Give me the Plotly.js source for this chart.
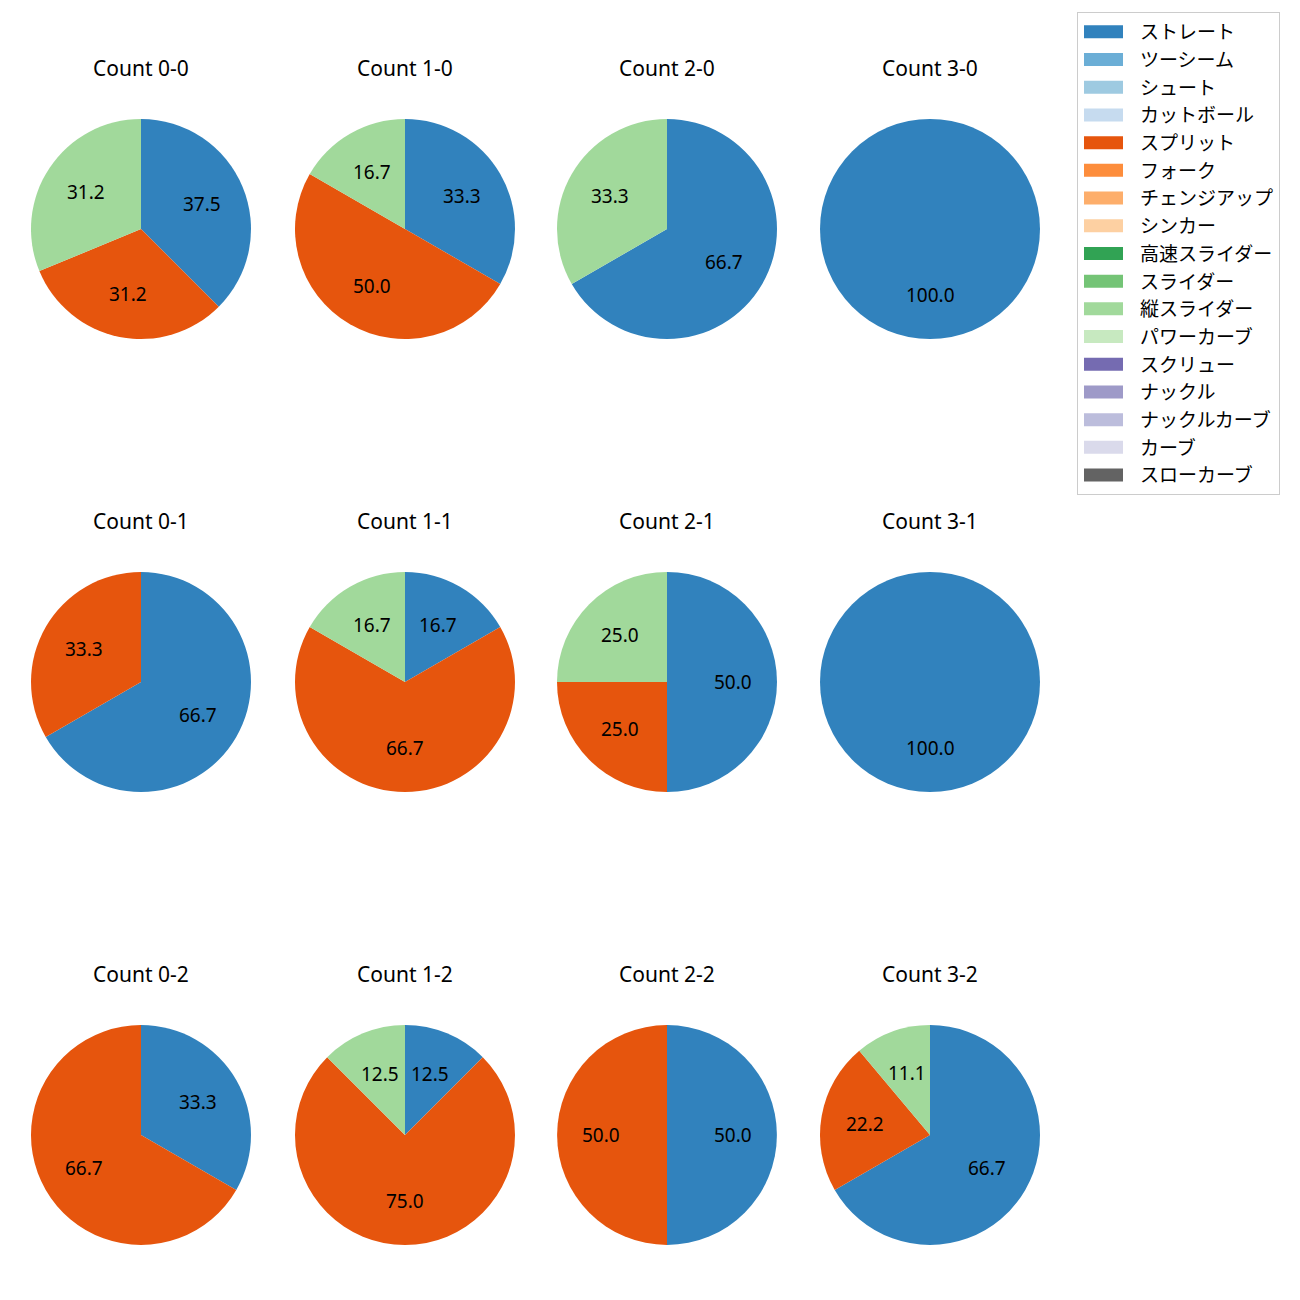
<!DOCTYPE html>
<html>
<head>
<meta charset="utf-8">
<script src="https://cdn.plot.ly/plotly-3.0.1.min.js"></script>
<style>html,body{margin:0;padding:0;background:#fff;}</style>
</head>
<body>
<div id="chart" style="width:1300px;height:1300px;"></div>
<script>
// ---- data ----
const counts = ['0-0','1-0','2-0','3-0','0-1','1-1','2-1','3-1','0-2','1-2','2-2','3-2'];
const pitchTypes = ['ストレート','ツーシーム','シュート','カットボール','スプリット','フォーク','チェンジアップ','シンカー','高速スライダー','スライダー','縦スライダー','パワーカーブ','スクリュー','ナックル','ナックルカーブ','カーブ','スローカーブ'];
const pitchColors = ['#3182bd','#6baed6','#9ecae1','#c6dbef','#e6550d','#fd8d3c','#fdae6b','#fdd0a2','#31a354','#74c476','#a1d99b','#c7e9c0','#756bb1','#9e9ac8','#bcbddc','#dadaeb','#636363'];
// pitches thrown per count (only these three types appear)
const straightCounts = [6,2,2,1, 2,1,2,1, 1,1,1,6];
const splitCounts    = [5,3,0,0, 1,4,1,0, 2,6,1,2];
const vSliderCounts  = [5,1,1,0, 0,1,1,0, 0,1,0,1];

// ---- layout constants ----
const W = 1300, H = 1300;
const colCenters = [141, 405, 667, 930];
const rowCenters = [229, 682, 1135];
const R = 110;
const FONT_JP = '"Noto Sans CJK JP", "Noto Sans", sans-serif';
const FONT_LAT = '"Noto Sans", "Noto Sans CJK JP", sans-serif';

function fmtPct(p) {
  // python-like %1.1f (round half to even on exact halves)
  let x = p * 10;
  const f = Math.floor(x);
  const d = x - f;
  if (Math.abs(d - 0.5) < 1e-9) x = (f % 2 === 0) ? f : f + 1;
  else x = Math.round(x);
  return (x / 10).toFixed(1);
}

const traces = [];
const annotations = [];
counts.forEach((c, k) => {
  const col = k % 4, row = Math.floor(k / 4);
  const cx = colCenters[col], cy = rowCenters[row];
  const vals = pitchTypes.map(() => 0);
  vals[pitchTypes.indexOf('ストレート')] = straightCounts[k];
  vals[pitchTypes.indexOf('スプリット')] = splitCounts[k];
  vals[pitchTypes.indexOf('縦スライダー')] = vSliderCounts[k];
  traces.push({
    type: 'pie',
    labels: pitchTypes,
    values: vals,
    marker: {colors: pitchColors, line: {width: 0}},
    sort: false,
    direction: 'clockwise',
    rotation: 0,
    textinfo: 'none',
    hoverinfo: 'label+percent',
    showlegend: k === 0,
    domain: {x: [(cx - R) / W, (cx + R) / W], y: [1 - (cy + R) / H, 1 - (cy - R) / H]}
  });
  annotations.push({
    text: 'Count ' + c, xref: 'paper', yref: 'paper',
    x: cx / W, y: 1 - (cy - 161) / H, xanchor: 'center', yanchor: 'middle',
    showarrow: false, font: {family: FONT_LAT, size: 21, color: '#000'}
  });
  const total = vals.reduce((a, b) => a + b, 0);
  let cum = 0;
  vals.forEach(v => {
    if (v > 0) {
      const mid = (cum + v / 2) / total * 2 * Math.PI;
      const lx = cx + 0.6 * R * Math.sin(mid);
      const ly = cy - 0.6 * R * Math.cos(mid);
      annotations.push({
        text: fmtPct(100 * v / total), xref: 'paper', yref: 'paper',
        x: lx / W, y: 1 - ly / H, xanchor: 'center', yanchor: 'middle',
        showarrow: false, font: {family: FONT_LAT, size: 19, color: '#000'}
      });
    }
    cum += v;
  });
});

const layout = {
  width: W, height: H,
  margin: {l: 0, r: 0, t: 0, b: 0},
  paper_bgcolor: '#fff',
  font: {family: FONT_JP, color: '#000'},
  showlegend: true,
  legend: {
    x: 1077 / W, y: 1 - 12 / H, xanchor: 'left', yanchor: 'top',
    bgcolor: '#fff', bordercolor: '#cccccc', borderwidth: 1,
    font: {family: FONT_JP, size: 19, color: '#000'},
    itemwidth: 52,
    traceorder: 'normal'
  },
  annotations: annotations
};

Plotly.newPlot('chart', traces, layout, {displayModeBar: false, staticPlot: true}).then(() => {
  // widen legend swatches to matplotlib-like rectangles
  document.querySelectorAll('path.legendpie').forEach(p => {
    p.setAttribute('d', 'M-25,6.5H14V-6.5H-25Z');
  });
});
</script>
</body>
</html>
